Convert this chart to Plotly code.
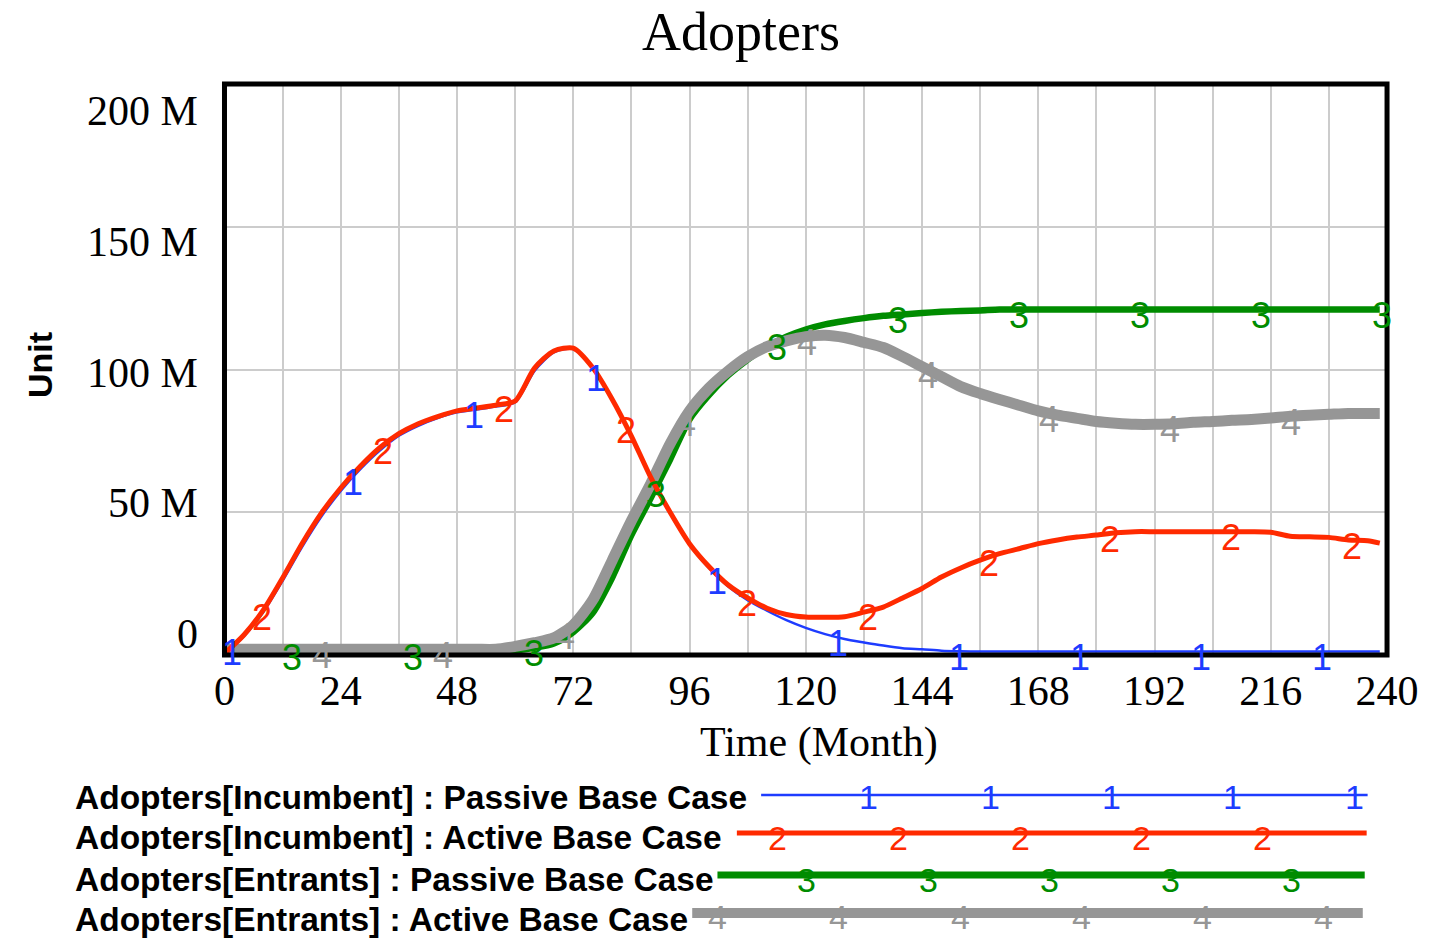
import numpy as np
import plotly.graph_objects as go

# ---------------- data (values in millions) ----------------
TIME = list(range(0, 240, 4)) + [238.5]

INC_PASSIVE = [0.4, 6.5, 15, 26, 37.8, 48.5, 57.5, 65, 71.5, 76.8, 80.3, 83, 85, 86, 87,
               88.5, 99.5, 106, 107.2, 100.7, 89.7, 76.7, 62.2, 50, 38.7, 30.5, 24, 19.2,
               15.5, 12.2, 9.5, 7.3, 5.6, 4.4, 3.3, 2.4, 2.0, 1.5, 1.3] + [1.2] * 22

INC_ACTIVE = [0.5, 7, 15.7, 27, 39, 49.7, 58.5, 66, 72.5, 77.5, 81, 83.5, 85.5, 86.5, 87.5,
              89, 100.5, 106.5, 107.5, 100.7, 89.7, 76.7, 62.2, 50, 39, 31, 24.5, 20,
              16.4, 14.2, 13.3, 13.2, 13.4, 15, 16.8, 20, 23.3, 27.3, 30.5, 33.2, 35.5,
              37.2, 39, 40.3, 41.3, 42, 42.8, 43.2, 43.2, 43.2, 43.2, 43.2, 43.2, 43.2,
              43.0, 41.6, 41.4, 41.2, 40.3, 40.0, 39.2]

ENT_PASSIVE = [1.2] * 15 + [1.6, 2.5, 4, 8, 14.7, 27, 42, 55, 68.5, 82.5, 91, 98, 103.5,
                            108, 111.5, 114, 115.8, 117, 118, 118.8, 119.3, 119.8, 120.2,
                            120.5, 120.7] + [121] * 21

ENT_ACTIVE = [2.0] * 15 + [3.0, 4.3, 6.0, 10.5, 19.2, 33, 47, 60, 74, 85.5, 93.5, 99.5,
                           104.5, 108, 110, 111.5, 112, 111.2, 109.5, 107.7, 104.5, 101,
                           97.5, 94, 91.6, 89.5, 87.5, 85.5, 84, 82.9, 81.8, 81.2, 80.8,
                           80.8, 81, 81.5, 81.8, 82.2, 82.5, 83, 83.6, 84, 84.3, 84.6,
                           84.6, 84.6]

SERIES_NAMES = ["Adopters[Incumbent] : Passive Base Case",
                "Adopters[Incumbent] : Active Base Case",
                "Adopters[Entrants] : Passive Base Case",
                "Adopters[Entrants] : Active Base Case"]
SERIES_TAGS = ["1", "2", "3", "4"]
X_TICKS = list(range(0, 241, 12))
X_LABELS = [str(v) if v % 24 == 0 else "" for v in X_TICKS]
Y_TICKS = [0, 50e6, 100e6, 150e6, 200e6]
Y_LABELS = ["0", "50 M", "100 M", "150 M", "200 M"]

for s in (INC_PASSIVE, INC_ACTIVE, ENT_PASSIVE, ENT_ACTIVE):
    assert len(s) == len(TIME)

SERIES = [INC_PASSIVE, INC_ACTIVE, ENT_PASSIVE, ENT_ACTIVE]
COLORS = ["#1e3cff", "#ff2a00", "#008c00", "#969696"]
WIDTHS = [2.5, 5, 6.5, 11]
LEG_WIDTHS = [2.5, 5, 7, 10]

# ---------------- layout geometry (pixels) ----------------
W, H = 1453, 938
PL, PR, PT, PB = 220, 1418, 84, 655


def fx(p):
    return p / W


def fy(p):
    return 1 - p / H


fig = go.Figure()

draw_order = [2, 3, 0, 1]
for i in draw_order:
    fig.add_trace(go.Scatter(
        x=TIME, y=[v * 1e6 for v in SERIES[i]], mode="lines",
        line=dict(color=COLORS[i], width=WIDTHS[i], shape="spline", smoothing=0.7),
        name=SERIES_NAMES[i], showlegend=False, hoverinfo="skip"))

annotations = []
shapes = []

# number tags along each curve
tag_start = [1.6, 7.8, 14.0, 20.2]
for i in range(4):
    t = tag_start[i]
    while t <= 239.5:
        yv = float(np.interp(t, TIME, SERIES[i])) * 1e6
        annotations.append(dict(
            x=t, y=yv, xref="x", yref="y", text=SERIES_TAGS[i], showarrow=False,
            xanchor="center", yanchor="middle", yshift=-6,
            font=dict(family="Liberation Sans", size=36, color=COLORS[i])))
        t += 25

# y tick labels (Vensim-style offset placement)
for v, lab in zip(Y_TICKS, Y_LABELS):
    ypx = 111.5 + (200e6 - v) / 50e6 * 130.5
    annotations.append(dict(
        x=fx(195), y=fy(ypx), xref="paper", yref="paper", text=lab, showarrow=False,
        xanchor="right", yanchor="middle",
        font=dict(family="Liberation Serif", size=42, color="black")))

# title, axis titles
annotations.append(dict(x=fx(752.5), y=fy(32), xref="paper", yref="paper", text="Adopters",
                        showarrow=False, xanchor="center", yanchor="middle",
                        font=dict(family="Liberation Serif", size=54, color="black")))
annotations.append(dict(x=fx(832.5), y=fy(742), xref="paper", yref="paper",
                        text="Time (Month)", showarrow=False, xanchor="center",
                        yanchor="middle",
                        font=dict(family="Liberation Serif", size=42, color="black")))
annotations.append(dict(x=fx(30), y=fy(365), xref="paper", yref="paper", text="<b>Unit</b>",
                        showarrow=False, textangle=-90, xanchor="center", yanchor="middle",
                        font=dict(family="Liberation Sans", size=34, color="black")))

# legend block
leg_text_y = [797, 837, 879, 919]
leg_line_y = [795, 833, 875, 913]
leg_line_x = [(773, 1398), (748, 1397), (728, 1395), (702, 1393)]
leg_tag_x0 = [884, 790, 820, 728]
leg_tag_n = [5, 5, 5, 6]
leg_tag_y = [797, 838, 880, 917]
for i in range(4):
    annotations.append(dict(x=fx(64), y=fy(leg_text_y[i]), xref="paper", yref="paper",
                            text="<b>" + SERIES_NAMES[i] + "</b>", showarrow=False,
                            xanchor="left", yanchor="middle",
                            font=dict(family="Liberation Sans", size=33.5, color="black")))
    shapes.append(dict(type="line", xref="paper", yref="paper",
                       x0=fx(leg_line_x[i][0]), x1=fx(leg_line_x[i][1]),
                       y0=fy(leg_line_y[i]), y1=fy(leg_line_y[i]),
                       line=dict(color=COLORS[i], width=LEG_WIDTHS[i])))
    for j in range(leg_tag_n[i]):
        annotations.append(dict(x=fx(leg_tag_x0[i] + 125 * j), y=fy(leg_tag_y[i]),
                                xref="paper", yref="paper", text=SERIES_TAGS[i],
                                showarrow=False, xanchor="center", yanchor="middle",
                                font=dict(family="Liberation Sans", size=34,
                                          color=COLORS[i])))

# plot border
shapes.append(dict(type="rect", xref="x domain", yref="y domain", x0=0, x1=1, y0=0, y1=1,
                   line=dict(color="black", width=5), layer="above"))

fig.update_layout(
    width=W, height=H, autosize=False, margin=dict(l=0, r=0, t=0, b=0),
    paper_bgcolor="white", plot_bgcolor="white",
    annotations=annotations, shapes=shapes, showlegend=False,
    xaxis=dict(domain=[fx(PL), fx(PR)], range=[0, 240], tickvals=X_TICKS,
               ticktext=X_LABELS, showgrid=True, gridcolor="#cccccc", gridwidth=2,
               zeroline=False, showline=False, ticks="", ticklabelstandoff=7,
               tickfont=dict(family="Liberation Serif", size=42, color="black")),
    yaxis=dict(domain=[fy(PB), fy(PT)], range=[0, 200e6], tickvals=Y_TICKS,
               showticklabels=False, showgrid=True, gridcolor="#cccccc", gridwidth=2,
               zeroline=False, showline=False, ticks=""),
)

fig.write_html("out.html", config={"responsive": False, "displayModeBar": False},
               post_script="document.body.style.margin='0';"
                           "document.body.style.overflow='hidden';")
